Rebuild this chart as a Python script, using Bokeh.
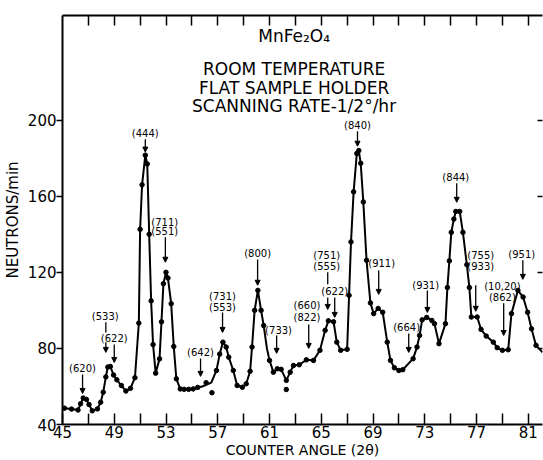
from bokeh.plotting import figure
from bokeh.models import (LinearAxis, FixedTicker, Arrow, NormalHead, ColumnDataSource,
                          Label, Range1d)
from bokeh.core.properties import value
from bokeh.embed import file_html
from bokeh.resources import INLINE

FONT = "DejaVu Sans"

# ---- smooth curve through the measurements (2theta, neutrons/min) ----
curve_angle = [45.0, 45.15, 45.7, 46.2, 46.4, 46.6, 46.85, 47.05, 47.3, 47.7, 47.95, 48.15,
               48.35, 48.5, 48.7, 48.95, 49.2, 49.55, 49.9, 50.25, 50.6, 50.9, 51.0, 51.15,
               51.4, 51.55, 51.7, 51.85, 52.0, 52.2, 52.5, 52.65, 52.8, 53.0, 53.15, 53.4,
               53.6, 53.8, 54.1, 54.4, 54.75, 55.1, 55.45, 55.8, 56.5, 56.9, 57.15, 57.4,
               57.65, 57.85, 58.2, 58.5, 58.9, 59.2, 59.5, 59.65, 59.85, 60.1, 60.35, 60.55,
               60.8, 61.0, 61.3, 61.6, 61.9, 62.3, 62.6, 62.85, 63.3, 63.85, 64.4, 64.9,
               65.3, 65.55, 65.95, 66.2, 66.5, 67.0, 67.15, 67.3, 67.5, 67.75, 67.9, 68.05,
               68.25, 68.5, 68.8, 69.05, 69.4, 69.75, 70.1, 70.35, 70.65, 71.0, 71.3, 72.1,
               72.4, 72.6, 72.8, 73.15, 73.55, 73.75, 74.1, 74.6, 74.75, 74.9, 75.05, 75.25,
               75.4, 75.7, 75.95, 76.25, 76.45, 76.6, 77.05, 77.35, 77.75, 78.3, 78.6, 79.0,
               79.45, 79.7, 80.2, 80.6, 80.95, 81.25, 81.6, 82.1]
curve_counts = [48.3, 48.6, 48.1, 47.6, 50.9, 53.9, 53.2, 50.5, 47.2, 48.2, 51.7, 57.0,
                65.0, 70.2, 70.5, 66.0, 63.5, 60.5, 57.6, 59.0, 64.6, 93.3, 142.6, 166.0,
                181.6, 177.0, 140.0, 105.0, 82.0, 67.0, 74.5, 94.0, 114.0, 120.0, 117.0, 103.5,
                81.0, 64.0, 58.7, 58.5, 58.5, 58.7, 59.5, 60.0, 62.0, 68.4, 77.0, 83.3,
                80.7, 75.4, 68.4, 60.5, 59.6, 61.4, 68.0, 80.7, 100.0, 110.5, 100.0, 92.0,
                80.0, 73.7, 67.5, 69.3, 69.0, 63.2, 67.5, 71.0, 71.4, 74.0, 73.7, 79.0,
                89.5, 94.5, 94.0, 83.3, 79.0, 79.5, 107.9, 136.0, 162.3, 182.5, 184.0, 177.3,
                157.0, 126.3, 103.9, 98.3, 101.0, 99.0, 83.3, 73.7, 69.8, 68.4, 68.8, 74.6,
                80.7, 86.8, 95.0, 96.3, 94.7, 93.0, 82.5, 93.0, 112.0, 126.0, 141.0, 148.0,
                152.0, 152.0, 141.0, 124.0, 112.0, 96.5, 96.5, 90.0, 86.5, 83.3, 80.4, 79.0,
                79.3, 98.3, 110.5, 107.0, 99.0, 90.3, 81.6, 78.0]

# ---- measured points (dots) ----
dot_angle = [45.15, 45.7, 46.2, 46.4, 46.6, 46.85, 47.05, 47.3, 47.7, 47.95, 48.15, 48.35,
             48.5, 48.7, 48.95, 49.2, 49.55, 49.9, 50.25, 50.6, 50.9, 51.0, 51.15, 51.4,
             51.55, 51.7, 51.85, 52.0, 52.2, 52.5, 52.65, 52.8, 53.0, 53.15, 53.4, 53.6,
             53.8, 54.1, 54.4, 54.75, 55.1, 55.45, 56.1, 56.55, 56.9, 57.15, 57.4, 57.65,
             57.85, 58.2, 58.5, 58.9, 59.2, 59.5, 59.65, 59.85, 60.1, 60.35, 60.55, 61.0,
             61.3, 61.6, 61.9, 62.3, 62.3, 62.6, 62.85, 63.3, 63.85, 64.4, 64.9, 65.3,
             65.55, 65.95, 66.2, 66.5, 67.0, 67.15, 67.3, 67.5, 67.75, 67.9, 68.05, 68.25,
             68.5, 68.8, 69.05, 69.4, 69.75, 70.1, 70.35, 70.65, 71.0, 71.3, 72.1, 72.4,
             72.6, 72.8, 73.15, 73.55, 73.75, 74.1, 74.6, 74.75, 74.9, 75.05, 75.25, 75.4,
             75.7, 75.95, 76.25, 76.45, 76.6, 77.05, 77.35, 77.75, 78.3, 78.6, 79.0, 79.45,
             79.7, 80.2, 80.6, 80.95, 81.25, 81.6]
dot_counts = [48.6, 48.1, 47.6, 50.9, 53.9, 53.2, 50.5, 47.2, 48.2, 51.7, 57.0, 65.0,
              70.2, 70.5, 66.0, 63.5, 60.5, 57.6, 59.0, 64.6, 93.3, 142.6, 166.0, 181.6,
              177.0, 140.0, 105.0, 82.0, 67.0, 74.5, 94.0, 114.0, 120.0, 117.0, 103.5, 81.0,
              64.0, 58.7, 58.5, 58.5, 58.7, 59.5, 62.0, 56.7, 68.4, 77.0, 83.3, 80.7,
              75.4, 68.4, 60.5, 59.6, 61.4, 68.0, 80.7, 100.0, 110.5, 100.0, 92.0, 73.7,
              67.5, 69.3, 69.0, 63.2, 58.4, 67.5, 71.0, 71.4, 74.0, 73.7, 79.0, 89.5,
              94.5, 94.0, 83.3, 79.0, 79.5, 107.9, 136.0, 162.3, 182.5, 184.0, 177.3, 157.0,
              126.3, 103.9, 98.3, 101.0, 99.0, 83.3, 73.7, 69.8, 68.4, 68.8, 74.6, 80.7,
              86.8, 95.0, 96.3, 94.7, 93.0, 82.5, 93.0, 112.0, 126.0, 141.0, 148.0, 152.0,
              152.0, 141.0, 124.0, 112.0, 96.5, 96.5, 90.0, 86.5, 83.3, 80.4, 79.0, 79.3,
              98.3, 110.5, 107.0, 99.0, 90.3, 81.6]

# ---- reflection labels ----
hkl_text = ["(620)", "(533)", "(622)", "(444)", "(711)", "(551)", "(642)", "(731)", "(553)",
            "(800)", "(733)", "(660)", "(822)", "(751)", "(555)", "(622)", "(840)", "(911)",
            "(664)", "(931)", "(844)", "(755)", "(933)", "(951)", "(10,20)", "(862)"]
hkl_x = [46.55, 48.3, 49.0, 51.4, 52.9, 52.9, 55.67, 57.37, 57.37,
         60.08, 61.7, 63.9, 63.9, 65.42, 65.42, 66.04, 67.8, 69.67,
         71.6, 73.07, 75.4, 77.33, 77.33, 80.5, 79.0, 79.0]
hkl_y = [69.5, 96.8, 85.0, 193.2, 146.3, 141.6, 77.9, 107.4, 101.4,
         130.0, 89.5, 102.6, 96.5, 128.9, 122.8, 110.0, 197.4, 124.7,
         91.0, 113.2, 170.0, 128.9, 122.8, 129.5, 112.3, 106.7]

# arrows pointing at the reflections
arrow_x = [46.55, 48.35, 49.0, 51.4, 52.95, 55.67, 57.37, 60.08, 61.55, 64.03, 65.5, 66.04,
           67.8, 69.44, 71.76, 73.2, 75.47, 76.94, 80.58, 79.1]
arrow_top = [66.3, 83.2, 82.1, 190.0, 138.4, 74.7, 98.9, 126.8, 86.8, 92.6, 106.8, 106.8,
             194.2, 121.0, 87.9, 110.5, 166.8, 113.2, 126.3, 103.7]
arrow_tip = [56.3, 77.9, 72.6, 183.2, 125.3, 65.3, 88.4, 113.2, 77.4, 80.0, 100.5, 96.3,
             186.3, 108.4, 77.9, 98.9, 156.8, 99.5, 116.3, 86.8]
# plain connector strokes above the split labels
stem_x = [48.35, 65.5]
stem_top = [93.7, 120.0]
stem_bottom = [88.4, 113.7]

title_lines = ["MnFe\u2082O\u2084", "ROOM TEMPERATURE", "FLAT SAMPLE HOLDER",
               "SCANNING RATE-1/2\u00b0/hr"]
title_x = 62.9
title_y = [244.2, 227.1, 217.1, 207.4]

x_major = [45, 49, 53, 57, 61, 65, 69, 73, 77, 81]
x_minor = [47, 51, 55, 59, 63, 67, 71, 75, 79]
x_top = [47, 49, 51, 53, 55, 57, 59, 61, 63, 65, 67, 69, 71, 73, 75, 77, 79, 81]
y_ticks = [40, 80, 120, 160, 200]
y_right = [80, 120, 160, 200]

p = figure(width=543, height=460, x_range=Range1d(45, 82.1), y_range=Range1d(40, 255),
           output_backend="svg", toolbar_location=None,
           min_border_left=61, min_border_top=15, min_border_right=1, min_border_bottom=36)
p.outline_line_color = None
p.grid.visible = False
p.background_fill_color = "white"
p.border_fill_color = "white"

# bottom axis
xa = p.xaxis[0]
xa.ticker = FixedTicker(ticks=x_major, minor_ticks=x_minor)
xa.major_tick_in = 11
xa.major_tick_out = 0
xa.minor_tick_in = 11
xa.minor_tick_out = 0
xa.axis_line_width = 2
xa.major_tick_line_width = 1.5
xa.minor_tick_line_width = 1.5
xa.major_label_text_font = FONT
xa.major_label_text_font_size = "15px"
xa.major_label_text_color = "black"
xa.major_label_standoff = 1
xa.axis_label = "COUNTER ANGLE (2\u03b8)"
xa.axis_label_text_font = FONT
xa.axis_label_text_font_size = "14px"
xa.axis_label_text_font_style = "normal"
xa.axis_label_standoff = 1
xa.axis_label_text_color = "black"

# left axis
ya = p.yaxis[0]
ya.ticker = FixedTicker(ticks=y_ticks)
ya.major_tick_in = 0
ya.major_tick_out = 6
ya.minor_tick_in = 0
ya.minor_tick_out = 0
ya.axis_line_width = 2
ya.major_tick_line_width = 1.5
ya.major_label_text_font = FONT
ya.major_label_text_font_size = "15px"
ya.major_label_text_color = "black"
ya.major_label_standoff = 0
ya.axis_label = "NEUTRONS/min"
ya.axis_label_text_font = FONT
ya.axis_label_text_font_size = "15px"
ya.axis_label_text_font_style = "normal"
ya.axis_label_standoff = 3
ya.axis_label_text_color = "black"

# top axis (ticks only, labels not drawn)
top = LinearAxis(ticker=FixedTicker(ticks=x_top), major_tick_in=10, major_tick_out=0,
                 minor_tick_in=0, minor_tick_out=0, axis_line_width=2,
                 major_tick_line_width=1.5, major_label_text_font_size="0px",
                 major_label_text_color=None, major_label_standoff=0)
p.add_layout(top, "above")

# right axis (tick marks only)
right = LinearAxis(ticker=FixedTicker(ticks=y_right), major_tick_in=5, major_tick_out=0,
                   minor_tick_in=0, minor_tick_out=0, axis_line_color=None,
                   major_tick_line_width=1.5, major_label_text_font_size="0px",
                   major_label_text_color=None, major_label_standoff=0)
p.add_layout(right, "right")

# data
p.line(curve_angle, curve_counts, line_color="black", line_width=2)
p.scatter(dot_angle, dot_counts, size=4.5, color="black")

# labels and arrows
p.text(x=hkl_x, y=hkl_y, text=hkl_text, text_align="center", text_baseline="middle",
       text_font=value(FONT), text_font_size="10px", text_color="black")

asrc = ColumnDataSource(dict(x=arrow_x, y0=arrow_top, y1=arrow_tip))
p.add_layout(Arrow(end=NormalHead(size=5, fill_color="black", line_color="black"),
                   x_start="x", y_start="y0", x_end="x", y_end="y1", source=asrc,
                   line_width=1.3, line_color="black"))
p.segment(x0=stem_x, y0=stem_top, x1=stem_x, y1=stem_bottom, line_color="black",
          line_width=1.3)

for txt, ty in zip(title_lines, title_y):
    p.add_layout(Label(x=title_x, y=ty, text=txt, text_align="center",
                       text_baseline="middle", text_font=FONT, text_font_size="17px",
                       text_color="black"))

open("out.html", "w").write(file_html(p, INLINE))
